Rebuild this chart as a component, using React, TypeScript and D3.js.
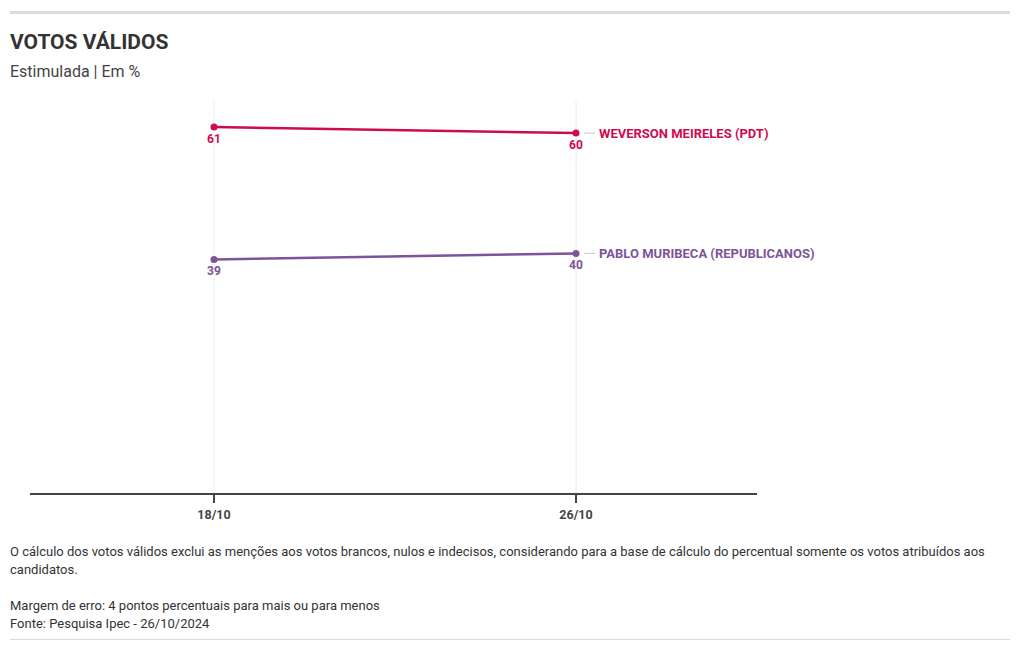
import React from "react";
import * as d3 from "d3";

const dates = ["18/10", "26/10"];
const seriesNames = ["WEVERSON MEIRELES (PDT)", "PABLO MURIBECA (REPUBLICANOS)"];
const weverson = [61, 60];
const pablo = [39, 40];
const seriesColors = ["#cf0a50", "#7d539b"];

const W = 1020;
const H = 650;
const FONT = "'Source Sans Pro', Roboto, 'Noto Sans', sans-serif";

export default function App() {
  const x = d3.scalePoint<string>().domain(dates).range([33, 757]).padding(0.5);
  const y = d3.scaleLinear().domain([0, 65.5]).range([494, 100]);
  const series = [weverson, pablo];
  const line = d3
    .line<number>()
    .x((_, i) => x(dates[i]) as number)
    .y((d) => y(d));
  const lastX = x(dates[dates.length - 1]) as number;

  return (
    <svg
      width={W}
      height={H}
      style={{ position: "absolute", left: 0, top: 0, fontFamily: FONT }}
    >
      <rect x={0} y={0} width={W} height={H} fill="#fff" />
      <line x1={10} x2={1010} y1={12.5} y2={12.5} stroke="#dcdcdc" strokeWidth={3} />
      <text x={10} y={49} fontSize={21} fontWeight={700} fill="#333">
        VOTOS VÁLIDOS
      </text>
      <text x={10} y={77} fontSize={16} fill="#444">
        Estimulada | Em %
      </text>

      {dates.map((d) => (
        <line
          key={"g" + d}
          x1={x(d)}
          x2={x(d)}
          y1={100}
          y2={494}
          stroke="#ececec"
          strokeWidth={1}
        />
      ))}

      <line x1={30} x2={757} y1={494} y2={494} stroke="#444" strokeWidth={2} />
      {dates.map((d) => (
        <g key={"t" + d}>
          <line x1={x(d)} x2={x(d)} y1={494} y2={503} stroke="#444" strokeWidth={2} />
          <text
            x={x(d)}
            y={519}
            textAnchor="middle"
            fontSize={12.5}
            fontWeight={700}
            fill="#444"
          >
            {d}
          </text>
        </g>
      ))}

      {series.map((vals, si) => (
        <g key={"s" + si}>
          <path
            d={line(vals) || ""}
            fill="none"
            stroke={seriesColors[si]}
            strokeWidth={2.5}
          />
          {vals.map((v, i) => (
            <g key={i}>
              <circle cx={x(dates[i])} cy={y(v)} r={3.5} fill={seriesColors[si]} />
              <text
                x={x(dates[i])}
                y={y(v) + 15.5}
                textAnchor="middle"
                fontSize={12}
                fontWeight={700}
                fill={seriesColors[si]}
              >
                {v}
              </text>
            </g>
          ))}
          <line
            x1={lastX + 8}
            x2={lastX + 19}
            y1={y(vals[vals.length - 1])}
            y2={y(vals[vals.length - 1])}
            stroke="#c8c8c8"
            strokeWidth={1}
          />
          <text
            x={lastX + 23}
            y={y(vals[vals.length - 1]) + 4.5}
            fontSize={13}
            fontWeight={700}
            fill={seriesColors[si]}
          >
            {seriesNames[si]}
          </text>
        </g>
      ))}

      <g fontSize={13} fill="#333">
        <text x={10} y={556}>
          O cálculo dos votos válidos exclui as menções aos votos brancos, nulos e indecisos, considerando para a base de cálculo do percentual somente os votos atribuídos aos
        </text>
        <text x={10} y={574}>candidatos.</text>
        <text x={10} y={610}>Margem de erro: 4 pontos percentuais para mais ou para menos</text>
        <text x={10} y={628}>Fonte: Pesquisa Ipec - 26/10/2024</text>
      </g>
      <line x1={10} x2={1010} y1={639.5} y2={639.5} stroke="#dcdcdc" strokeWidth={1} />
    </svg>
  );
}
